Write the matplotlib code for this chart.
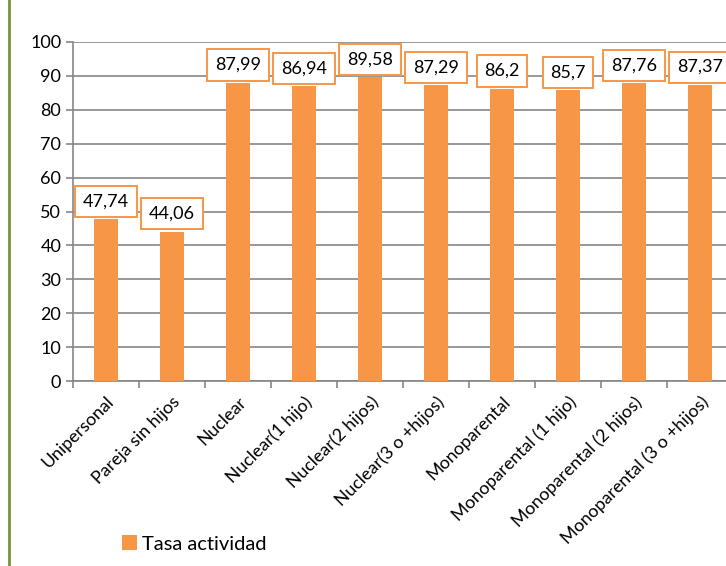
"""Tasa de actividad por tipo de hogar
"""
import matplotlib
matplotlib.use('Agg')
import matplotlib.pyplot as plt
from matplotlib.lines import Line2D
import numpy as np

categorias = ['Unipersonal', 'Pareja sin hijos', 'Nuclear', 'Nuclear(1 hijo)',
              'Nuclear(2 hijos)', 'Nuclear(3 o +hijos)', 'Monoparental',
              'Monoparental (1 hijo)', 'Monoparental (2 hijos)',
              'Monoparental (3 o +hijos)']
tasa = [47.74, 44.06, 87.99, 86.94, 89.58, 87.29, 86.2, 85.7, 87.76, 87.37]
etiquetas = ['47,74', '44,06', '87,99', '86,94', '89,58', '87,29', '86,2',
             '85,7', '87,76', '87,37']

naranja = '#F79646'
gris = '#868686'

plt.rcParams['font.family'] = ['Lato', 'DejaVu Sans']

fig = plt.figure(figsize=(7.26, 5.66), dpi=100)
ax = fig.add_axes([73 / 726, 1 - 381 / 566, 660 / 726, 339 / 566])

x = np.arange(len(categorias))
ax.bar(x, tasa, width=0.36, color=naranja, zorder=3, label='Tasa actividad')

for xi, v, txt in zip(x, tasa, etiquetas):
    ax.annotate(txt, (xi, v), xytext=(0, 7), textcoords='offset points',
                ha='center', va='bottom', fontsize=13, zorder=5,
                bbox=dict(boxstyle='square,pad=0.42', fc='white',
                          ec=naranja, lw=1.4))

ax.set_xlim(-0.5, len(categorias) - 0.5)
ax.set_ylim(0, 100)
ax.set_yticks(range(0, 101, 10))
ax.set_xticks(x)
ax.set_xticklabels(categorias, rotation=45, ha='right', rotation_mode='anchor',
                   fontsize=12.8)
ax.set_xticks(np.arange(-0.5, len(categorias), 1), minor=True)
ax.tick_params(axis='x', which='major', length=0, pad=9)
ax.tick_params(axis='x', which='minor', length=5, color=gris, width=1.2)
ax.tick_params(axis='y', length=5, color=gris, width=1.2, labelsize=13)
ax.grid(axis='y', color=gris, lw=1.2, zorder=0)
for s in ['top', 'right']:
    ax.spines[s].set_visible(False)
for s in ['left', 'bottom']:
    ax.spines[s].set_color(gris)
    ax.spines[s].set_linewidth(1.2)

fig.legend(loc='center left', bbox_to_anchor=(104 / 726, 1 - 544 / 566),
           frameon=False, fontsize=14.5, handlelength=0.75, handleheight=0.75,
           handletextpad=0.25)

fig.add_artist(Line2D([8.5 / 726, 8.5 / 726], [0, 1], color='#77933C', lw=2,
                      transform=fig.transFigure))

fig.savefig('out.png', dpi=100)
